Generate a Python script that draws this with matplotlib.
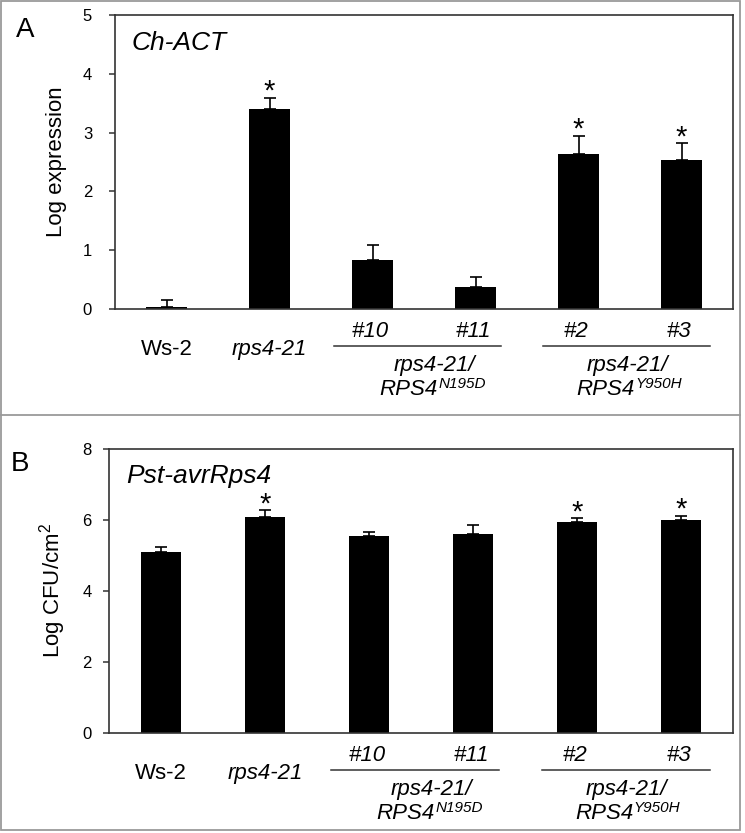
import numpy as np
import matplotlib
matplotlib.use("Agg")
import matplotlib.pyplot as plt
import matplotlib.transforms as mtransforms
from matplotlib.lines import Line2D
from matplotlib.patches import Rectangle

plt.rcParams['font.family'] = ['Liberation Sans', 'DejaVu Sans']
plt.rcParams['mathtext.fontset'] = 'custom'
plt.rcParams['mathtext.rm'] = 'Liberation Sans'

# data
lines = ["Ws-2", "rps4-21", "#10", "#11", "#2", "#3"]
act_mean = [0.03, 3.40, 0.83, 0.37, 2.63, 2.53]
act_err = [0.12, 0.19, 0.25, 0.18, 0.32, 0.29]
act_sig = [False, True, False, False, True, True]
cfu_mean = [5.09, 6.09, 5.54, 5.60, 5.93, 6.00]
cfu_err = [0.14, 0.18, 0.12, 0.27, 0.12, 0.12]
cfu_sig = [False, True, False, False, True, True]
groups = ["rps4-21/", "rps4-21/"]
group_main = ["RPS4", "RPS4"]
group_sup = ["N195D", "Y950H"]

W, H = 745, 833
fig = plt.figure(figsize=(W / 100, H / 100), dpi=100)

def px_box(l, t, r, b):
    return [l / W, 1 - b / H, (r - l) / W, (b - t) / H]

spine_col = '#333333'

def panel(ax, mean, err, sig, ymax, step, ylabel, gene, letter, tick_pad, lab_x):
    x = np.arange(len(mean))
    ax.bar(x, mean, width=0.39, color='black', zorder=2)
    ax.errorbar(x, mean, yerr=[np.zeros(len(err)), err], fmt='none',
                ecolor='black', elinewidth=1.2, capsize=4, capthick=1.2, zorder=3)
    for xi, m, e, s in zip(x, mean, err, sig):
        if s:
            ax.annotate('*', xy=(xi, m + e), xytext=(0, -1.5), textcoords='offset points',
                        ha='center', va='baseline', fontsize=21)
    ax.set_xlim(-0.5, 5.5)
    ax.set_ylim(0, ymax)
    ax.set_yticks(np.arange(0, ymax + 0.01, step))
    ax.set_xticks([])
    ax.tick_params(axis='y', direction='out', length=4.5, width=1.1,
                   color=spine_col, labelsize=12, pad=tick_pad)
    for sp in ax.spines.values():
        sp.set_color(spine_col)
        sp.set_linewidth(1.2)
    ax.set_ylabel(ylabel, fontsize=16, va='center')
    ax.yaxis.set_label_coords(lab_x, 0.5)
    ax.text(0.027, 0.882, gene, transform=ax.transAxes, fontsize=19,
            style='italic', ha='left', va='baseline')

    def tr(d):
        return mtransforms.offset_copy(ax.get_xaxis_transform(), fig=fig, y=-d, units='points')

    # x labels
    ax.text(0, 0, "Ws-2", transform=tr(33), ha='center', va='baseline', fontsize=16)
    ax.text(1, 0, "rps4-21", transform=tr(33), ha='center', va='baseline',
            fontsize=16, style='italic')
    for xi in range(2, 6):
        ax.text(xi - 0.02, 0, lines[xi], transform=tr(20), ha='center', va='baseline',
                fontsize=16, style='italic')
    spans = [(1.63, 3.25), (3.66, 5.28)]
    for (x0, x1), xc, xm, g, gm, gs in zip(spans, [2.60, 4.47], [2.35, 4.26],
                                            groups, group_main, group_sup):
        ax.add_line(Line2D([x0, x1], [0, 0], transform=tr(26.5), color=spine_col,
                           lw=1.1, clip_on=False))
        ax.text(xc, 0, g, transform=tr(45), ha='center', va='baseline', fontsize=16,
                style='italic')
        t = ax.text(xm, 0, gm, transform=tr(62), ha='center', va='baseline', fontsize=16,
                    style='italic')
        ax.annotate(gs, xy=(1, 0), xycoords=t, xytext=(0.5, 8.5), textcoords='offset points',
                    ha='left', va='baseline', fontsize=11, style='italic')

    fig.text(ax.get_position().x0 - 0.12, ax.get_position().y1 - 0.018, letter,
             fontsize=20, ha='center', va='center')

axA = fig.add_axes(px_box(115, 15, 733, 309))
panel(axA, act_mean, act_err, act_sig, 5, 1, "Log expression", "Ch-ACT", "A", 12, -0.094)
axB = fig.add_axes(px_box(109, 449, 733, 733))
panel(axB, cfu_mean, cfu_err, cfu_sig, 8, 2, "Log CFU/cm$^2$", "Pst-avrRps4", "B", 8, -0.091)

# grey frames
border = '#9a9a9a'
fig.add_artist(Rectangle((1 / W, 1 - 830 / H), 739 / W, 829 / H, transform=fig.transFigure,
                         fill=False, edgecolor=border, lw=1.3))
fig.add_artist(Line2D([1 / W, 740 / W], [1 - 415 / H, 1 - 415 / H], transform=fig.transFigure,
                      color=border, lw=1.3))

fig.savefig("out.png", dpi=100)
